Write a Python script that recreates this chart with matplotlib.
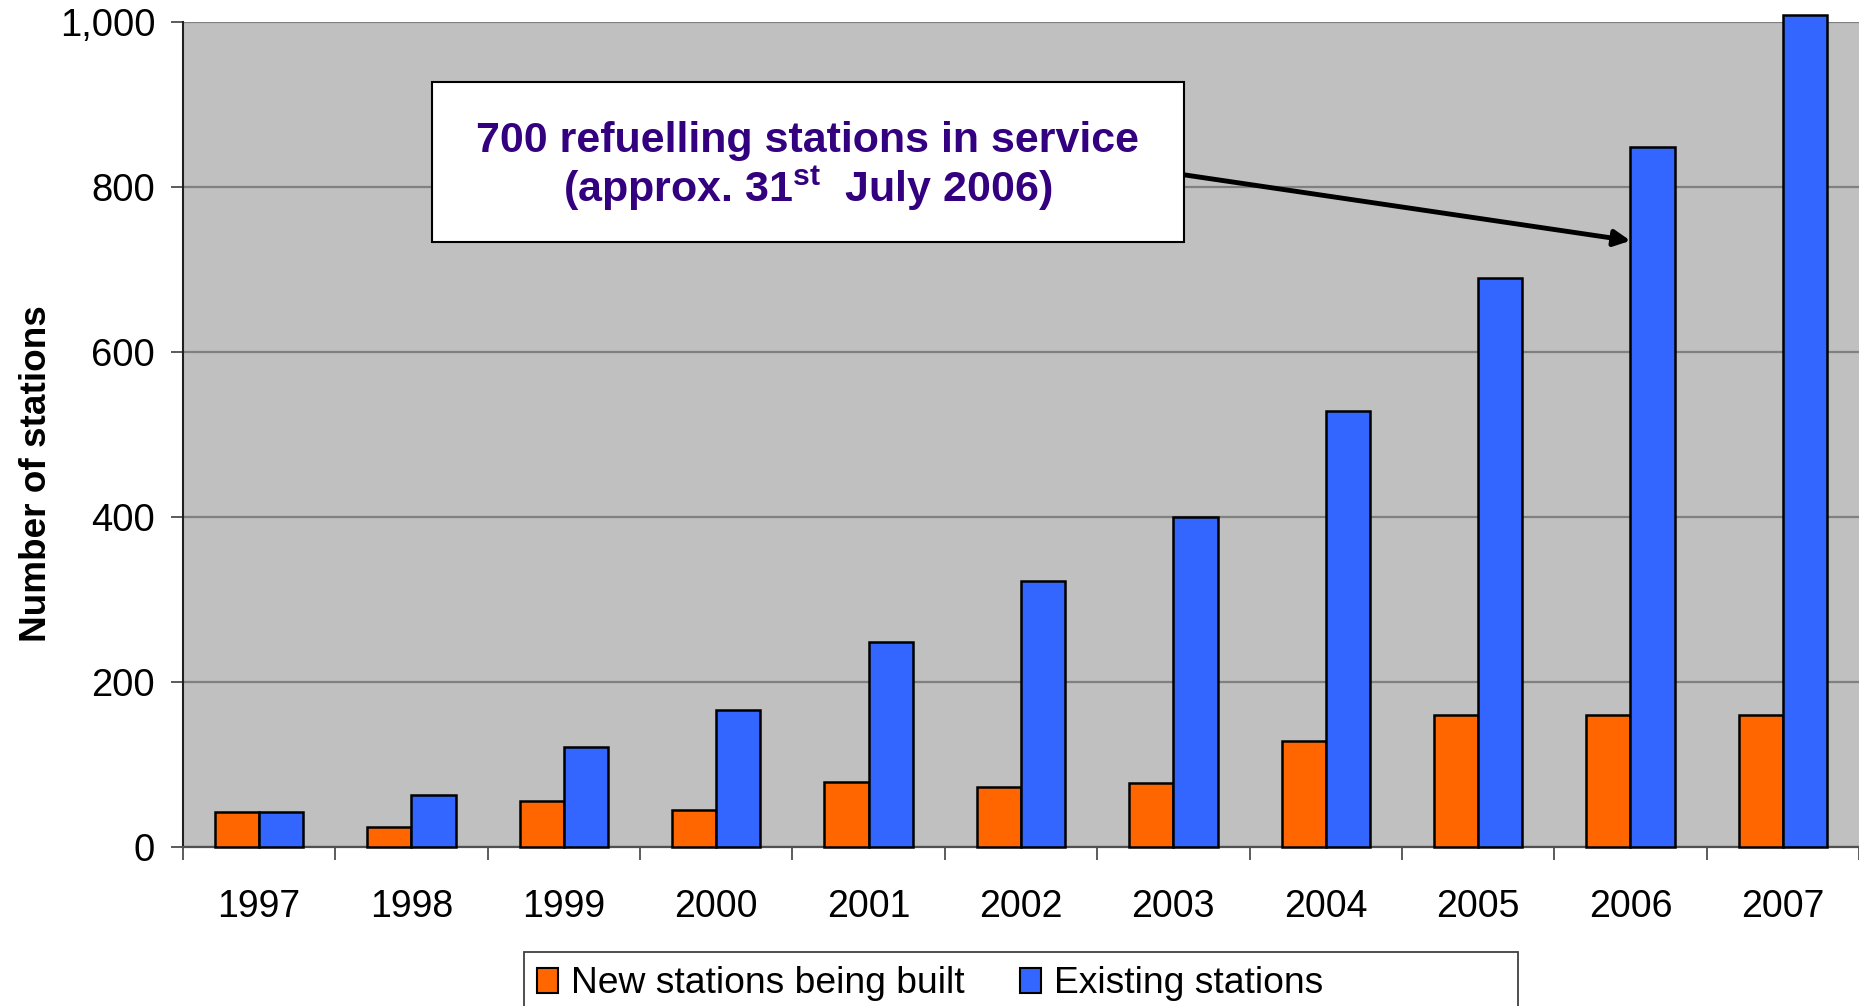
import numpy as np
import matplotlib.pyplot as plt
from matplotlib.patches import Rectangle
from matplotlib.ticker import FuncFormatter

# Datos del gráfico
years = ['1997', '1998', '1999', '2000', '2001', '2002', '2003', '2004', '2005', '2006', '2007']
new_built = [42, 24, 56, 45, 79, 73, 78, 129, 160, 160, 160]
existing = [42, 63, 121, 166, 249, 322, 400, 529, 690, 849, 1009]
y_ticks = [0, 200, 400, 600, 800, 1000]

plt.rcParams['font.family'] = ['Liberation Sans', 'DejaVu Sans']
plt.rcParams['mathtext.fontset'] = 'custom'
plt.rcParams['mathtext.bf'] = 'Liberation Sans:bold'
plt.rcParams['mathtext.rm'] = 'Liberation Sans'

orange = '#FF6600'
blue = '#3366FF'
purple = '#330080'

fig = plt.figure(figsize=(18.59, 10.06), dpi=100)
ax = fig.add_axes([0.0984, 0.158, 0.9016, 0.820])
ax.set_facecolor('#C0C0C0')

x = np.arange(len(years))
w = 0.29
b1 = ax.bar(x - w / 2, new_built, w, color=orange, edgecolor='black', linewidth=1.8,
            label='New stations being built', zorder=3)
b2 = ax.bar(x + w / 2, existing, w, color=blue, edgecolor='black', linewidth=1.8,
            label='Existing stations', zorder=3)
for p in list(b1) + list(b2):
    p.set_clip_on(False)

ax.set_xlim(-0.5, len(years) - 0.5)
ax.set_ylim(0, 1000)
ax.set_yticks(y_ticks)
ax.yaxis.set_major_formatter(FuncFormatter(lambda v, p: f'{int(v):,}'))
ax.grid(axis='y', color='#808080', linewidth=1.6, zorder=1)
ax.set_axisbelow(True)

ax.set_xticks(x)
ax.set_xticklabels(years)
ax.set_xticks(np.arange(len(years) + 1) - 0.5, minor=True)
ax.tick_params(axis='x', which='major', length=0, pad=30, labelsize=27)
ax.tick_params(axis='x', which='minor', length=9, width=1.2, color='#404040')
ax.tick_params(axis='y', length=9, width=1.2, color='#404040', pad=11, labelsize=27.5)

for s in ['top', 'right']:
    ax.spines[s].set_visible(False)
ax.spines['left'].set_color('#202020')
ax.spines['left'].set_linewidth(1.5)
ax.spines['bottom'].set_color('#505050')
ax.spines['bottom'].set_linewidth(1.6)

ax.set_ylabel('Number of stations', fontsize=26.6, fontweight='bold')
ax.yaxis.set_label_coords(-0.077, 0.453)

# Cuadro de anotación
box = Rectangle((0.1485, 0.734), 0.4485, 0.194, transform=ax.transAxes,
                facecolor='white', edgecolor='black', linewidth=1.5, zorder=5)
ax.add_patch(box)
ax.text(0.3729, 0.8424, '700 refuelling stations in service', transform=ax.transAxes,
        ha='center', va='baseline', fontsize=31, fontweight='bold', color=purple, zorder=6)
ax.text(0.3729, 0.7818, r'(approx. 31$^{\mathbf{st}}$  July 2006)', transform=ax.transAxes,
        ha='center', va='baseline', fontsize=31, fontweight='bold', color=purple, zorder=6)
ax.annotate('', xy=(9, 735), xycoords='data', xytext=(0.597, 0.815), textcoords='axes fraction',
            arrowprops=dict(arrowstyle='-|>', color='black', lw=3.5, mutation_scale=24,
                            shrinkA=0, shrinkB=0), zorder=4)

# Leyenda (marco dibujado aparte, más ancho que el contenido)
frame = Rectangle((0.2819, -0.05), 0.5347, 0.1037, transform=fig.transFigure,
                  facecolor='white', edgecolor='#404040', linewidth=1.3)
fig.patches.append(frame)
leg = fig.legend(loc='center left', bbox_to_anchor=(0.2889, 0.0219), ncol=2, fontsize=26.8,
                 frameon=False, borderpad=0, borderaxespad=0,
                 handlelength=0.57, handleheight=0.65, handletextpad=0.35, columnspacing=1.48)
for h in leg.legend_handles:
    h.set_edgecolor('black')
    h.set_linewidth(1.5)

fig.savefig('out.png', dpi=100)
